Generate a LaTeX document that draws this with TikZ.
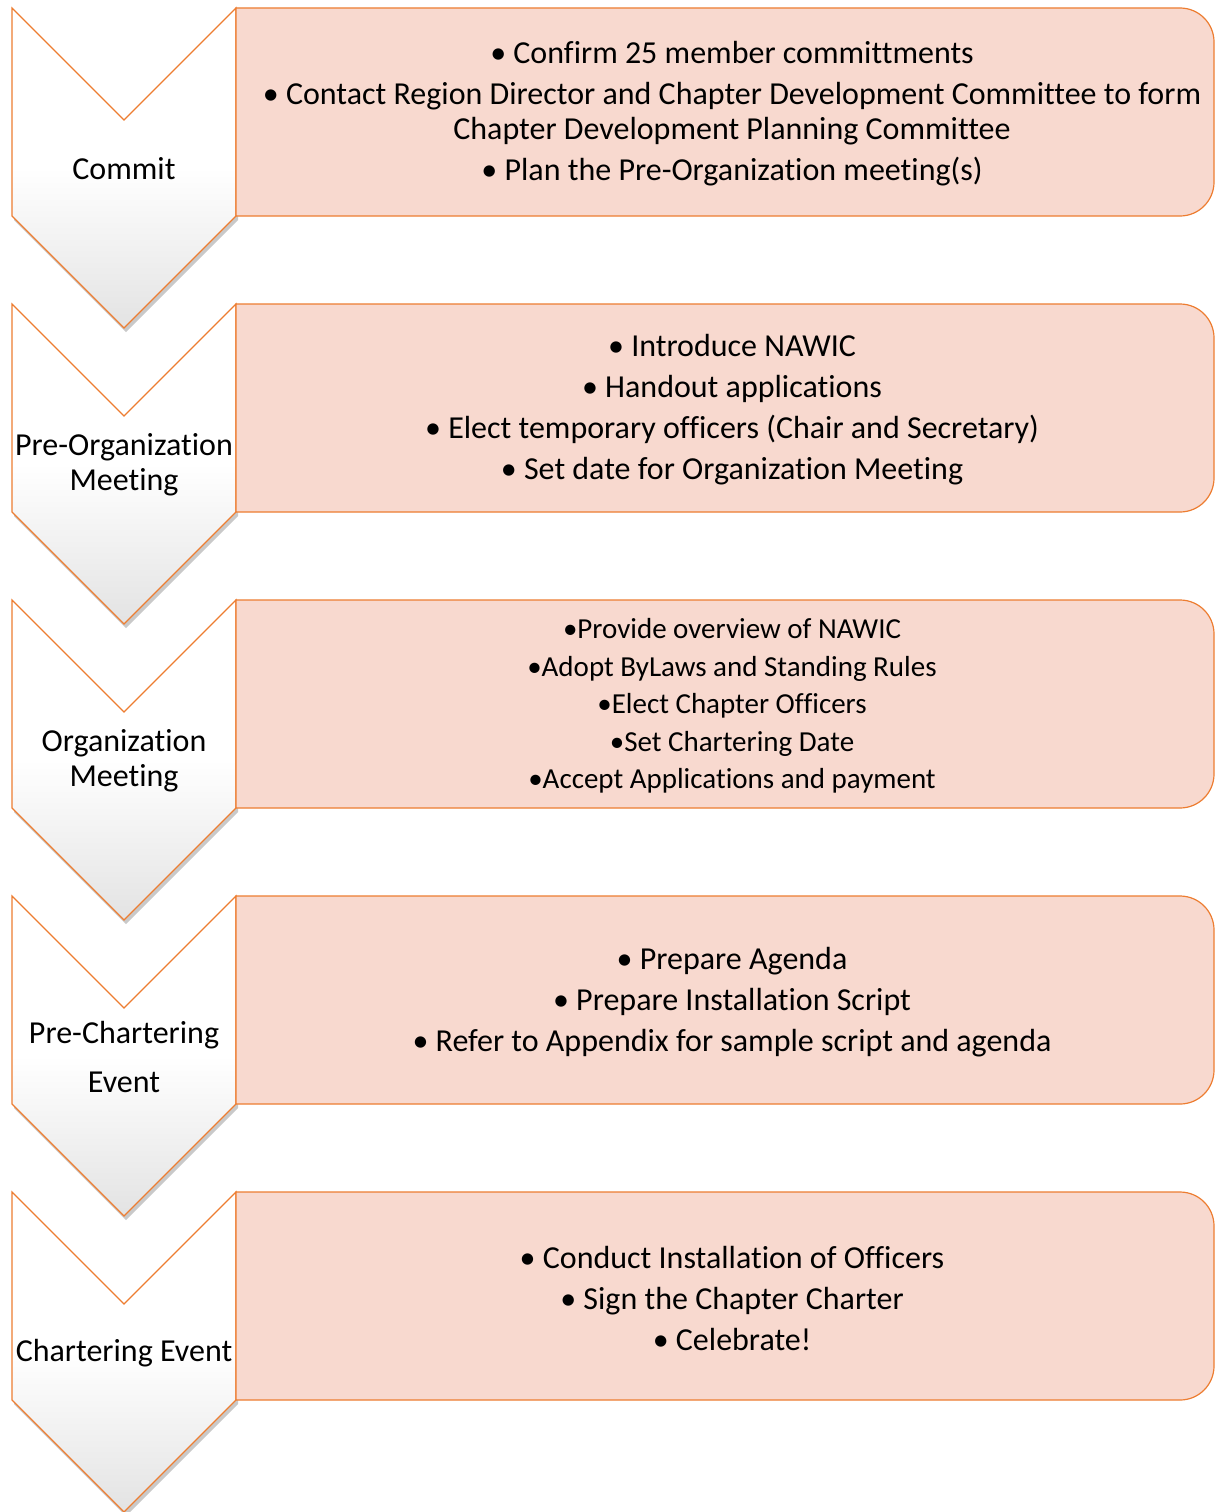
\documentclass[tikz,border=0pt]{standalone}
\usepackage{fontspec}
\setmainfont{Carlito}[Ligatures=NoCommon]
\usetikzlibrary{shadows}
\definecolor{nawicorange}{HTML}{ED7D31}
\definecolor{nawicpeach}{HTML}{F8D9CF}
\tikzset{
  chevron/.style={draw=nawicorange, line width=1.2pt, line join=miter,
    top color=white, bottom color=black!11, middle color=white,
    drop shadow={shadow xshift=2pt, shadow yshift=-4pt, opacity=.3, fill=black!70}},
  stepbox/.style={draw=nawicorange, line width=1.2pt, fill=nawicpeach},
  stagetext/.style={align=center, inner sep=0pt, font=\fontsize{32}{35}\selectfont},
  bullets/.style={align=center, inner sep=0pt, font=\fontsize{32}{35}\selectfont},
  smallbullets/.style={align=center, inner sep=0pt, font=\fontsize{29}{37.5}\selectfont}
}

\begin{document}
\begin{tikzpicture}[x=1pt,y=1pt]
  \useasboundingbox (0,0) rectangle (1215,-1512);
  % chevrons and boxes, one row every 296
  \foreach \t in {8,304,600,896,1192}{
    \draw[chevron] (12,-\t) -- (124,{-\t-112}) -- (236,-\t) -- (236,{-\t-208})
      -- (124,{-\t-320}) -- (12,{-\t-208}) -- cycle;
    \draw[stepbox] (236,-\t) -- (1180,-\t) arc[start angle=90,end angle=0,radius=34]
      -- (1214,{-\t-174}) arc[start angle=0,end angle=-90,radius=34]
      -- (236,{-\t-208}) -- cycle;
  }
  % stage names
  \node[stagetext] (commit) at (124,-169) {Commit};
  \node[stagetext] (preorg) at (124,-465) {Pre-Organization\\Meeting};
  \node[stagetext] (org) at (124,-761) {Organization\\Meeting};
  \node[stagetext] (prechart) at (124,-1057) {Pre-Chartering\\[14pt]Event};
  \node[stagetext] (chart) at (124,-1353) {Chartering Event};
  % tasks
  \node[bullets] (commitlist) at (732,-114) {• Confirm 25 member committments\\[6pt]
    • Contact Region Director and Chapter Development Committee to form\\
    Chapter Development Planning Committee\\[6pt]
    • Plan the Pre-Organization meeting(s)};
  \node[bullets] (preorglist) at (732,-410) {• Introduce NAWIC\\[6pt]
    • Handout applications\\[6pt]
    • Elect temporary officers (Chair and Secretary)\\[6pt]
    • Set date for Organization Meeting};
  \node[smallbullets] (orglist) at (732,-706) {•Provide overview of NAWIC\\
    •Adopt ByLaws and Standing Rules\\
    •Elect Chapter Officers\\
    •Set Chartering Date\\
    •Accept Applications and payment};
  \node[bullets] (prechartlist) at (732,-1002) {• Prepare Agenda\\[6pt]
    • Prepare Installation Script\\[6pt]
    • Refer to Appendix for sample script and agenda};
  \node[bullets] (chartlist) at (732,-1298) {• Conduct Installation of Officers\\[6pt]
    • Sign the Chapter Charter\\[6pt]
    • Celebrate!};
\end{tikzpicture}
\end{document}
